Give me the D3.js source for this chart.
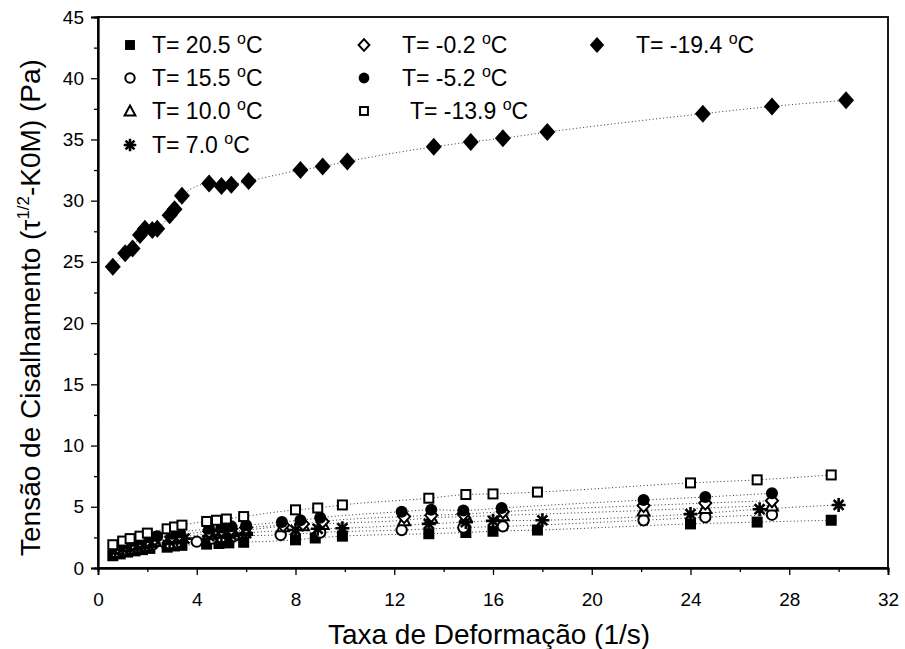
<!DOCTYPE html>
<html><head><meta charset="utf-8">
<script src="https://cdn.jsdelivr.net/npm/d3@7"></script>
<style>body{margin:0;background:#fff}svg{display:block}text{font-family:"Liberation Sans",Arial,sans-serif;fill:#000}</style>
</head><body><div id="chart"></div>
<script>
const xTicks = [0,4,8,12,16,20,24,28,32];
const yTicks = [0,5,10,15,20,25,30,35,40,45];
const seriesNames = ["T= 20.5 ","T= 15.5 ","T= 10.0 ","T= 7.0 ","T= -0.2 ","T= -5.2 ","T= -13.9 ","T= -19.4 "];
const seriesSymbols = ["fsquare","ocircle","otriangle","star","odiamond","fcircle","osquare","fdiamond"];

const x205 = [0.6,0.9,1.2,1.5,1.8,2.1,2.8,3.1,3.4,4.4,4.9,5.3,5.9,8.0,8.8,9.9,13.4,14.9,16.0,17.8,24.0,26.7,29.7];
const y205 = [1.0,1.15,1.3,1.4,1.5,1.6,1.7,1.8,1.85,1.95,2.0,2.05,2.1,2.3,2.45,2.6,2.8,2.9,3.0,3.1,3.6,3.75,3.9];
const x155 = [0.7,1.0,1.3,1.6,1.9,2.2,2.9,3.2,4.0,4.6,5.0,5.5,7.4,9.0,12.3,14.8,16.4,22.1,24.6,27.3];
const y155 = [1.3,1.45,1.6,1.7,1.8,1.9,2.0,2.1,2.15,2.4,2.5,2.6,2.7,2.9,3.1,3.3,3.4,3.9,4.15,4.35];
const x100 = [0.8,1.1,1.4,1.7,2.0,2.3,3.0,3.3,4.5,5.0,5.4,6.0,7.5,8.3,9.1,12.4,13.5,14.9,16.4,22.1,24.6,27.3];
const y100 = [1.6,1.8,1.9,2.0,2.1,2.2,2.4,2.5,2.8,2.9,3.0,3.1,3.4,3.5,3.6,3.9,4.1,4.2,4.3,4.7,4.9,5.1];
const x70 = [0.7,1.0,1.3,1.6,1.9,2.2,2.9,3.2,3.5,4.5,5.0,5.4,6.0,8.0,8.9,9.9,13.4,14.9,16.0,18.0,24.0,26.8,30.0];
const y70 = [1.4,1.6,1.7,1.8,1.9,2.0,2.2,2.3,2.4,2.6,2.7,2.7,2.85,3.1,3.2,3.25,3.6,3.75,3.85,3.9,4.4,4.8,5.15];
const xm02 = [0.8,1.1,1.4,1.7,2.0,2.3,3.0,3.3,4.5,5.0,5.4,6.0,7.5,8.3,9.1,12.4,13.5,14.8,16.4,22.1,24.6,27.3];
const ym02 = [1.7,1.9,2.0,2.2,2.3,2.4,2.6,2.7,3.0,3.1,3.2,3.3,3.5,3.6,3.8,4.2,4.3,4.4,4.6,5.1,5.3,5.5];
const xm52 = [0.9,1.2,1.5,1.8,2.1,2.4,3.0,3.3,4.5,5.0,5.4,6.0,7.45,8.2,9.0,12.3,13.5,14.8,16.35,22.1,24.6,27.3];
const ym52 = [1.8,2.0,2.2,2.3,2.5,2.6,2.8,2.9,3.2,3.3,3.4,3.5,3.75,3.9,4.1,4.6,4.75,4.7,4.9,5.55,5.8,6.1];
const xm139 = [0.6,1.0,1.3,1.7,2.0,2.8,3.1,3.4,4.4,4.8,5.2,5.9,8.0,8.9,9.9,13.4,14.9,16.0,17.8,24.0,26.7,29.7];
const ym139 = [1.9,2.2,2.4,2.6,2.85,3.2,3.35,3.5,3.8,3.9,4.0,4.2,4.75,4.9,5.15,5.7,6.0,6.05,6.2,6.95,7.2,7.6];
const xm194 = [0.6,1.1,1.4,1.7,1.9,2.2,2.4,2.9,3.1,3.4,4.5,5.0,5.4,6.1,8.2,9.1,10.1,13.6,15.1,16.4,18.2,24.5,27.3,30.3];
const ym194 = [24.6,25.7,26.1,27.2,27.7,27.6,27.7,28.8,29.3,30.4,31.4,31.2,31.3,31.6,32.5,32.8,33.2,34.4,34.8,35.1,35.6,37.1,37.7,38.2];

const seriesX = [x205,x155,x100,x70,xm02,xm52,xm139,xm194];
const seriesY = [y205,y155,y100,y70,ym02,ym52,ym139,ym194];

const W = 905, H = 649;
const m = {left:98, right:17, top:17, bottom:81};
const svg = d3.select("#chart").append("svg").attr("width",W).attr("height",H);
const x = d3.scaleLinear().domain([0,32]).range([m.left, W-m.right]);
const y = d3.scaleLinear().domain([0,45]).range([H-m.bottom, m.top]);

svg.append("rect").attr("x",m.left).attr("y",m.top).attr("width",W-m.right-m.left).attr("height",H-m.bottom-m.top)
  .attr("fill","none").attr("stroke","#000").attr("stroke-width",1.8);

const xAxis = svg.append("g").attr("transform",`translate(0,${H-m.bottom})`)
  .call(d3.axisBottom(x).tickValues(xTicks).tickSize(7).tickPadding(12).tickFormat(d3.format("d")));
const xMinor = svg.append("g").attr("transform",`translate(0,${H-m.bottom})`)
  .call(d3.axisBottom(x).tickValues(d3.range(2,32,4)).tickSize(4).tickFormat(""));
const yAxis = svg.append("g").attr("transform",`translate(${m.left},0)`)
  .call(d3.axisLeft(y).tickValues(yTicks).tickSize(7).tickPadding(7).tickFormat(d3.format("d")));
const yMinor = svg.append("g").attr("transform",`translate(${m.left},0)`)
  .call(d3.axisLeft(y).tickValues(d3.range(2.5,45,5)).tickSize(4).tickFormat(""));
[xAxis,xMinor,yAxis,yMinor].forEach(g=>{
  g.select(".domain").attr("stroke-width",1.8);
  g.selectAll(".tick line").attr("stroke-width",1.3);
  g.selectAll("text").style("font-size","19px").style("font-family","Liberation Sans, Arial, sans-serif");
});
xAxis.selectAll("text").attr("dy","1.0em");

const line = d3.line().x(d=>x(d[0])).y(d=>y(d[1])).curve(d3.curveMonotoneX);
seriesX.forEach((xs,i)=>{
  const pts = xs.map((v,j)=>[v,seriesY[i][j]]);
  svg.append("path").attr("d",line(pts)).attr("fill","none").attr("stroke","#333")
    .attr("stroke-width",1).attr("stroke-dasharray","1,2.5");
});

function drawSymbol(g, type, cx, cy, sc){
  sc = sc || 1;
  const s = 5.5*sc;
  if(type==="fsquare") g.append("rect").attr("x",cx-s).attr("y",cy-s).attr("width",2*s).attr("height",2*s).attr("fill","#000");
  else if(type==="osquare") g.append("rect").attr("x",cx-s+1).attr("y",cy-s+1).attr("width",2*s-2).attr("height",2*s-2).attr("fill","#fff").attr("stroke","#000").attr("stroke-width",2);
  else if(type==="ocircle") g.append("circle").attr("cx",cx).attr("cy",cy).attr("r",5.2*sc).attr("fill","#fff").attr("stroke","#000").attr("stroke-width",2);
  else if(type==="fcircle") g.append("circle").attr("cx",cx).attr("cy",cy).attr("r",6*sc).attr("fill","#000");
  else if(type==="otriangle") g.append("path").attr("d",`M${cx},${cy-6*sc}L${cx+6*sc},${cy+5*sc}L${cx-6*sc},${cy+5*sc}Z`).attr("fill","#fff").attr("stroke","#000").attr("stroke-width",2);
  else if(type==="odiamond") g.append("path").attr("d",`M${cx},${cy-6.5*sc}L${cx+6*sc},${cy}L${cx},${cy+6.5*sc}L${cx-6*sc},${cy}Z`).attr("fill","#fff").attr("stroke","#000").attr("stroke-width",2);
  else if(type==="fdiamond") g.append("path").attr("d",`M${cx},${cy-9*sc}L${cx+8*sc},${cy}L${cx},${cy+9*sc}L${cx-8*sc},${cy}Z`).attr("fill","#000");
  else if(type==="star"){
    const r=7*sc;
    let d="";
    for(let k=0;k<4;k++){const a=k*Math.PI/4; d+=`M${cx-r*Math.cos(a)},${cy-r*Math.sin(a)}L${cx+r*Math.cos(a)},${cy+r*Math.sin(a)}`;}
    g.append("path").attr("d",d).attr("stroke","#000").attr("stroke-width",2.6);
  }
}

seriesX.forEach((xs,i)=>{
  const g = svg.append("g");
  xs.forEach((v,j)=>drawSymbol(g, seriesSymbols[i], x(v), y(seriesY[i][j])));
});

const legPos = [[130,152,45],[130,152,78],[130,152,111],[130,152,145],[364,402,45],[364,402,78],[364,410,111],[597,636,45]];
seriesNames.forEach((nm,i)=>{
  const [mx,tx,ty] = legPos[i];
  const g = svg.append("g");
  drawSymbol(g, seriesSymbols[i], mx, ty, 0.9);
  const t = g.append("text").attr("x",tx).attr("y",ty+8).style("font-size","23px");
  t.append("tspan").text(nm);
  t.append("tspan").text("o").attr("dy",-9).style("font-size","16px");
  t.append("tspan").text("C").attr("dy",9);
});

svg.append("text").attr("x",489).attr("y",644).attr("text-anchor","middle")
  .style("font-size","28px").text("Taxa de Deformação (1/s)");
const yt = svg.append("text").attr("transform",`translate(40,${(m.top+H-m.bottom)/2 + 15}) rotate(-90)`)
  .attr("text-anchor","middle").style("font-size","28px");
yt.append("tspan").text("Tensão de Cisalhamento (τ");
yt.append("tspan").text("1/2").attr("dy",-11).style("font-size","17px");
yt.append("tspan").text("-K0M) (Pa)").attr("dy",11);
</script></body></html>
